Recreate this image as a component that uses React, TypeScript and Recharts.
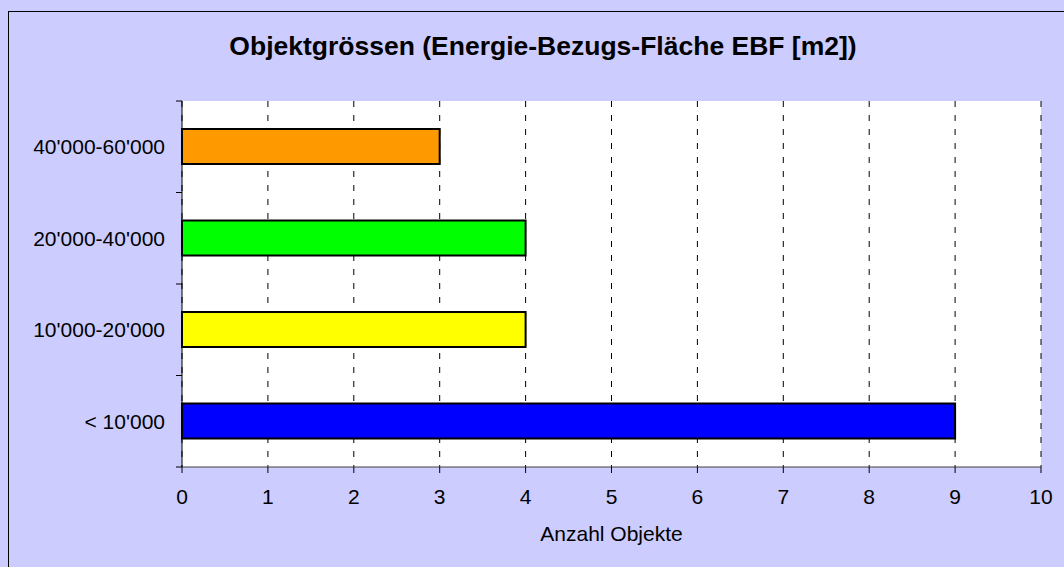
import React from "react";
import { BarChart, Bar, XAxis, YAxis, CartesianGrid, Cell } from "recharts";

// categories top to bottom, as in the picture
const categories = ["40'000-60'000", "20'000-40'000", "10'000-20'000", "< 10'000"];
const counts = [3, 4, 4, 9];
const barColors = ["#FF9900", "#00FF00", "#FFFF00", "#0000FF"];
const xTicks = [0, 1, 2, 3, 4, 5, 6, 7, 8, 9, 10];

const data = categories.map((name, i) => ({ name, count: counts[i] }));

const WIDTH = 1064;
const HEIGHT = 567;
const PLOT_TOP = 101;
const PLOT_BOTTOM = 467;
const PLOT_LEFT = 182;
const FONT = '"Liberation Sans", Arial, sans-serif';
const LABEL_SIZE = 21;

// label at band centre, tick marks on the band boundaries (Excel style)
function CategoryTick(props: any) {
  const { x, y, payload, index } = props;
  const half = (PLOT_BOTTOM - PLOT_TOP) / categories.length / 2;
  const isLast = index === categories.length - 1 || payload?.value === categories[categories.length - 1];
  return (
    <g>
      <line x1={PLOT_LEFT - 6} x2={PLOT_LEFT} y1={y - half} y2={y - half} stroke="#000" />
      {isLast && <line x1={PLOT_LEFT - 6} x2={PLOT_LEFT} y1={y + half} y2={y + half} stroke="#000" />}
      <text x={x} y={y} dy="0.355em" textAnchor="end" fontSize={LABEL_SIZE} fill="#000" fontFamily={FONT}>
        {payload.value}
      </text>
    </g>
  );
}

export default function App() {
  return (
    <div
      style={{
        position: "absolute",
        left: 0,
        top: 0,
        width: WIDTH,
        height: HEIGHT,
        background: "#CCCCFF",
        overflow: "hidden",
        fontFamily: FONT,
      }}
    >
      <div
        style={{
          position: "absolute",
          left: 8,
          top: 11,
          width: 1200,
          height: 700,
          borderLeft: "1px solid #000",
          borderTop: "1px solid #000",
        }}
      />
      <div
        style={{
          position: "absolute",
          left: 0,
          top: 31,
          width: 1086,
          textAlign: "center",
          fontSize: 26.5,
          fontWeight: "bold",
          lineHeight: "30px",
          color: "#000",
        }}
      >
        Objektgrössen (Energie-Bezugs-Fläche EBF [m2])
      </div>
      <div style={{ position: "absolute", left: 0, top: 0 }}>
        <BarChart
          width={WIDTH}
          height={HEIGHT}
          data={data}
          layout="vertical"
          margin={{ top: PLOT_TOP, right: 23, bottom: 26, left: 0 }}
          barSize={35}
        >
          <CartesianGrid horizontal={false} stroke="#000" strokeDasharray="6 8" fill="#FFFFFF" fillOpacity={1} />
          <XAxis
            type="number"
            domain={[0, 10]}
            ticks={xTicks}
            interval={0}
            tickSize={6}
            tickMargin={16}
            height={74}
            axisLine={{ stroke: "#404040" }}
            tickLine={{ stroke: "#000" }}
            tick={{ fill: "#000", fontSize: LABEL_SIZE, fontFamily: FONT }}
            label={{
              value: "Anzahl Objekte",
              position: "insideBottom",
              offset: 0,
              fill: "#000",
              fontSize: LABEL_SIZE,
              fontFamily: FONT,
            }}
          />
          <XAxis
            xAxisId="top"
            orientation="top"
            type="number"
            domain={[0, 10]}
            height={0}
            tick={false}
            tickLine={false}
            axisLine={{ stroke: "#808080" }}
          />
          <YAxis
            type="category"
            dataKey="name"
            width={PLOT_LEFT}
            interval={0}
            tickSize={6}
            tickMargin={11}
            tickLine={false}
            axisLine={{ stroke: "#000" }}
            tick={<CategoryTick />}
          />
          <YAxis
            yAxisId="right"
            orientation="right"
            type="category"
            dataKey="name"
            width={0}
            tick={false}
            tickLine={false}
            axisLine={{ stroke: "#808080" }}
          />
          <Bar dataKey="count" stroke="#000" strokeWidth={2} isAnimationActive={false}>
            {data.map((d, i) => (
              <Cell key={d.name} fill={barColors[i]} />
            ))}
          </Bar>
        </BarChart>
      </div>
    </div>
  );
}
